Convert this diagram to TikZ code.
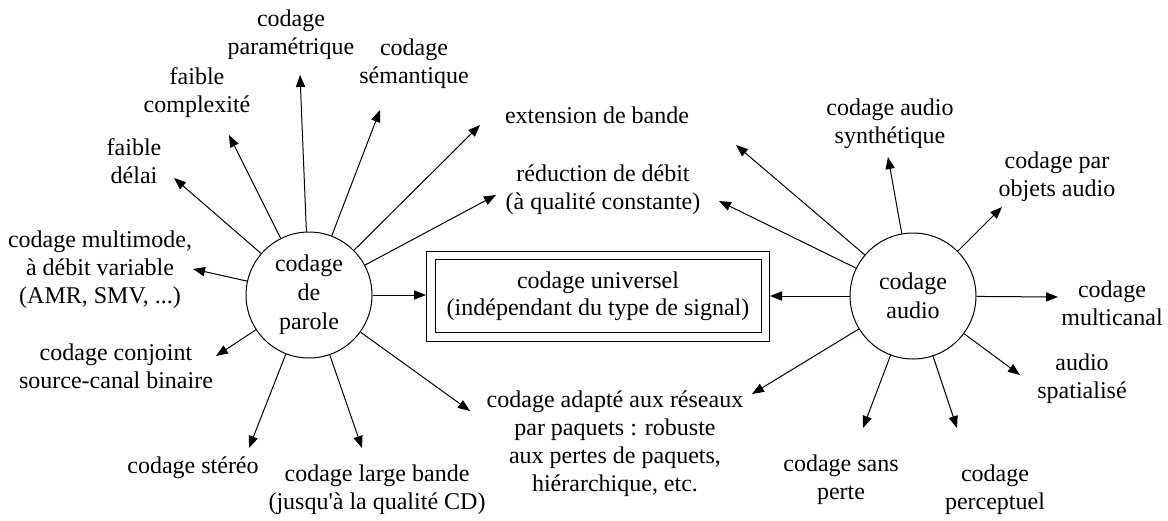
\documentclass[tikz,border=0pt]{standalone}
\usepackage{fontspec}
\setmainfont{Liberation Serif}
\newfontfamily\plainserif{Liberation Serif}
\usetikzlibrary{arrows.meta,fit}
\begin{document}
\begin{tikzpicture}[x=0.5pt,y=-0.5pt,
  lbl/.style={align=center, font=\plainserif\fontsize{12}{14}\selectfont, inner sep=0pt},
  hub/.style={draw, circle, minimum size=63pt, inner sep=0pt, align=center, font=\plainserif\fontsize{12}{14.5}\selectfont, line width=0.5pt},
  arr/.style={-{Triangle[length=6pt,width=4.6pt]}, line width=0.5pt},
  boxin/.style={draw, line width=0.5pt, minimum width=163pt, minimum height=36.5pt, align=center, inner sep=0pt, font=\plainserif\fontsize{12}{13.5}\selectfont},
  boxout/.style={draw, line width=0.5pt, inner sep=4pt}]
\useasboundingbox (0,0) rectangle (1168,520);

% hubs
\node[hub] (P) at (309,295) {codage\\de\\parole};
\node[hub] (A) at (913,296) {codage\\audio};
\node[boxin] (U) at (598,296) {codage universel\\(indépendant du type de signal)};
\node[boxout, fit=(U)] (UO) {};

% labels
\node[lbl] (lDelai) at (134,161) {faible\\délai};
\node[lbl] (lCompl) at (197,93) {faible\\complexité};
\node[lbl] (lParam) at (291,35) {codage\\paramétrique};
\node[lbl] (lSem) at (414,64) {codage\\sémantique};
\node[lbl] (lExt) at (597,115) {extension de bande};
\node[lbl] (lRed) at (603,190) {réduction de débit\\(à qualité constante)};
\node[lbl] (lMulti) at (100,270) {codage multimode,\\à débit variable\\(AMR, SMV, ...)};
\node[lbl] (lConj) at (116,366) {codage conjoint\\source-canal binaire};
\node[lbl] (lSter) at (193,468) {codage stéréo};
\node[lbl] (lLarge) at (377,490) {codage large bande\\(jusqu'à la qualité CD)};
\node[lbl] (lAdapt) at (615,444) {codage adapté aux réseaux\\par paquets : robuste\\aux pertes de paquets,\\hiérarchique, etc.};
\node[lbl] (lSynth) at (890,124) {codage audio\\synthétique};
\node[lbl] (lObj) at (1057,177) {codage par\\objets audio};
\node[lbl] (lMultiC) at (1112,303) {codage\\multicanal};
\node[lbl] (lSpat) at (1082,379) {audio\\spatialisé};
\node[lbl] (lPerc) at (995,490) {codage\\perceptuel};
\node[lbl] (lSans) at (841,480) {codage sans\\perte};

% arrow tips
\coordinate (tDelai) at (174,178);
\coordinate (tCompl) at (229,135);
\coordinate (tParam) at (300,75);
\coordinate (tSem) at (380,110);
\coordinate (tExt) at (480,125);
\coordinate (tRed) at (496,195);
\coordinate (tMulti) at (193,269);
\coordinate (tConj) at (216,356);
\coordinate (tSter) at (249,448);
\coordinate (tLarge) at (362,448);
\coordinate (tAdapt) at (470,411);
\coordinate (tExtR) at (736,145);
\coordinate (tRedR) at (719,201);
\coordinate (tSynth) at (888,157);
\coordinate (tObj) at (1002,207);
\coordinate (tMultiC) at (1058,297);
\coordinate (tSpat) at (1020,375);
\coordinate (tPerc) at (957,428);
\coordinate (tSans) at (863,428);
\coordinate (tAdaptR) at (752,394);

% connectors from P
\foreach \t in {tDelai,tCompl,tParam,tSem,tExt,tRed,tMulti,tConj,tSter,tLarge,tAdapt}
  \draw[arr] (P) -- (\t);
\draw[arr] (P.east) -- (P.east -| UO.west);
% connectors from A
\foreach \t in {tExtR,tRedR,tSynth,tObj,tMultiC,tSpat,tPerc,tSans,tAdaptR}
  \draw[arr] (A) -- (\t);
\draw[arr] (A.west) -- (A.west -| UO.east);
\end{tikzpicture}
\end{document}
